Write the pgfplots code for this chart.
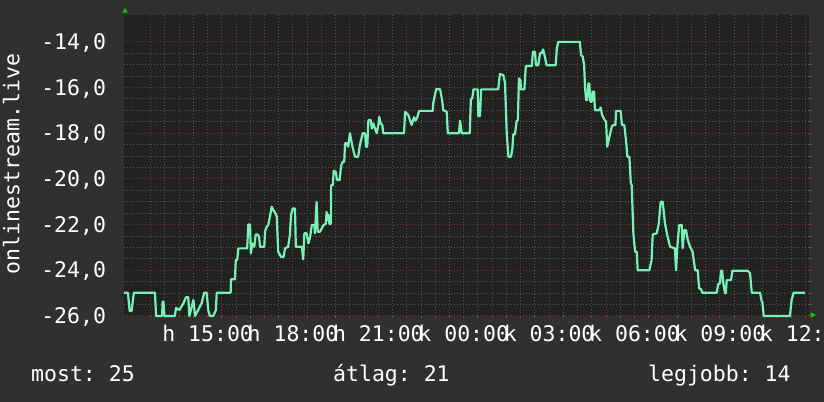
\documentclass[border=0pt]{standalone}
\usepackage{fontspec}
\setmainfont{DejaVu Sans Mono}
\usepackage{pgfplots}
\pgfplotsset{compat=1.18}
\usepackage{pgfplotstable}
\definecolor{bg}{RGB}{48,48,48}
\definecolor{canvas}{RGB}{33,33,33}
\definecolor{majgrid}{RGB}{120,54,54}
\definecolor{mingrid}{RGB}{88,88,88}
\definecolor{rrdline}{RGB}{118,242,182}
\definecolor{arrowc}{RGB}{0,210,0}
\newcommand\rrdfont{\fontsize{21.5bp}{25bp}\selectfont}

\pgfplotstableread{
h v
12.06 -24.98
12.20 -24.98
12.26 -25.78
12.33 -25.78
12.36 -25.43
12.41 -24.98
13.15 -24.98
13.19 -26.0
13.40 -26.0
13.42 -25.37
13.45 -25.37
13.48 -26.0
13.85 -26.0
13.89 -25.64
14.01 -25.74
14.15 -25.44
14.24 -25.18
14.32 -25.18
14.36 -26.0
14.50 -25.30
14.56 -26.0
14.79 -25.44
14.88 -24.98
14.97 -24.98
15.02 -25.74
15.08 -26.0
15.20 -26.0
15.29 -25.74
15.32 -24.98
15.81 -24.98
15.82 -24.39
15.96 -24.39
15.99 -23.55
16.04 -23.55
16.08 -23.04
16.39 -23.04
16.43 -21.99
16.49 -21.99
16.52 -23.26
16.57 -22.82
16.64 -22.97
16.69 -22.43
16.76 -22.43
16.81 -22.53
16.84 -22.97
16.99 -22.97
17.02 -22.28
17.08 -22.09
17.13 -22.02
17.19 -21.65
17.25 -21.22
17.31 -21.36
17.37 -21.48
17.43 -21.65
17.48 -23.19
17.58 -23.41
17.67 -23.41
17.72 -23.04
17.83 -22.97
17.89 -22.46
17.93 -21.58
17.99 -21.29
18.07 -21.29
18.10 -22.97
18.31 -22.97
18.36 -23.52
18.40 -22.38
18.48 -22.38
18.54 -22.82
18.60 -22.56
18.66 -22.02
18.75 -22.02
18.77 -22.38
18.83 -21.00
18.87 -22.31
18.95 -22.31
19.07 -22.02
19.15 -21.97
19.18 -21.44
19.22 -21.80
19.25 -21.58
19.28 -21.97
19.33 -21.97
19.34 -20.27
19.40 -20.27
19.43 -19.64
19.50 -19.69
19.55 -20.05
19.64 -20.05
19.69 -19.42
19.75 -19.25
19.80 -19.25
19.83 -18.44
19.90 -18.44
19.94 -18.59
20.00 -18.00
20.10 -18.65
20.18 -19.03
20.29 -19.03
20.35 -18.52
20.45 -18.00
20.53 -18.00
20.57 -18.59
20.61 -18.59
20.65 -17.42
20.73 -17.42
20.77 -17.79
20.82 -17.57
20.88 -17.79
20.94 -18.00
21.00 -17.64
21.03 -17.28
21.08 -17.57
21.14 -17.64
21.17 -18.00
21.90 -18.00
21.94 -17.06
22.05 -17.20
22.17 -17.64
22.25 -17.30
22.31 -17.45
22.38 -17.25
22.43 -17.02
22.91 -17.02
22.93 -16.67
23.03 -16.07
23.17 -16.07
23.24 -16.55
23.28 -16.99
23.40 -17.06
23.44 -18.00
23.83 -18.00
23.87 -17.45
23.93 -18.00
24.21 -18.00
24.25 -16.52
24.30 -16.47
24.34 -16.08
24.49 -16.08
24.51 -17.25
24.57 -17.25
24.61 -16.08
25.21 -16.08
25.27 -15.41
25.39 -15.45
25.45 -15.82
25.51 -18.00
25.57 -19.03
25.66 -19.03
25.71 -18.66
25.74 -18.04
25.80 -18.04
25.86 -17.45
25.90 -17.45
25.94 -15.60
25.99 -15.67
26.01 -16.08
26.13 -16.08
26.18 -15.06
26.39 -15.06
26.43 -14.43
26.50 -14.43
26.54 -15.02
26.62 -15.02
26.68 -14.50
26.74 -14.50
26.79 -14.33
26.85 -14.65
26.91 -15.02
27.23 -15.02
27.27 -14.29
27.32 -14.00
28.08 -14.00
28.12 -14.58
28.18 -14.65
28.23 -15.02
28.26 -15.97
28.30 -16.55
28.34 -16.55
28.38 -15.82
28.41 -15.82
28.45 -16.62
28.50 -16.62
28.53 -16.18
28.58 -16.18
28.61 -16.99
28.76 -16.99
28.81 -16.87
28.86 -17.20
28.90 -17.30
28.95 -17.42
29.00 -17.50
29.04 -18.59
29.08 -18.37
29.14 -18.04
29.20 -17.72
29.25 -17.64
29.33 -17.64
29.35 -17.02
29.51 -17.02
29.56 -17.64
29.64 -17.64
29.70 -18.30
29.75 -19.03
29.82 -19.03
29.87 -20.19
29.90 -20.27
29.96 -22.38
30.02 -23.19
30.08 -23.19
30.11 -24.00
30.52 -24.00
30.60 -23.55
30.64 -22.43
30.78 -22.38
30.85 -21.97
30.92 -21.00
30.99 -21.00
31.07 -21.94
31.15 -22.46
31.25 -22.97
31.42 -23.04
31.46 -24.00
31.50 -23.04
31.57 -22.02
31.66 -22.02
31.69 -23.04
31.75 -22.24
31.81 -22.24
31.87 -22.67
31.95 -22.97
32.04 -23.19
32.13 -24.00
32.22 -24.00
32.27 -24.79
32.34 -24.83
32.38 -24.98
32.89 -24.98
32.94 -24.60
33.00 -24.57
33.04 -24.02
33.08 -24.02
33.12 -24.57
33.18 -25.01
33.21 -24.98
33.24 -24.43
33.39 -24.43
33.44 -24.02
33.98 -24.02
34.06 -24.13
34.12 -24.98
34.41 -24.98
34.47 -25.37
34.49 -25.37
34.54 -26.00
35.46 -26.00
35.52 -25.30
35.59 -24.98
35.99 -24.98
}\datatable

\begin{document}
\frenchspacing
\rrdfont
\begin{tikzpicture}
\clip (0,0) rectangle (824bp,402bp);
\fill[bg] (0,0) rectangle (824bp,402bp);
\begin{axis}[
  at={(124bp,86bp)}, anchor=south west,
  scale only axis, width=685bp, height=301.3bp,
  xmin=12.062, xmax=36.131, ymin=-26, ymax=-12.81,
  axis background/.style={fill=canvas},
  axis line style={draw=none},
  clip=false,
  xtick={13,14,...,36},
  xticklabels={,,{h 15:00},,,{h 18:00},,,{h 21:00},,,{k 00:00},,,{k 03:00},,,{k 06:00},,,{k 09:00},,,{k 12:00}},
  minor x tick num=1,
  ytick={-26,-24,...,-14},
  yticklabels={{-26,0},{-24,0},{-22,0},{-20,0},{-18,0},{-16,0},{-14,0}},
  minor y tick num=3,
  grid=both,
  major grid style={majgrid, dash pattern=on 1bp off 2bp, line width=1bp},
  minor grid style={mingrid, dash pattern=on 1bp off 2bp, line width=1bp},
  tick align=outside, major tick length=2.5bp, minor tick length=2.5bp,
  xtick pos=bottom, ytick pos=right,
  major tick style={majgrid, line width=1bp},
  minor tick style={mingrid, line width=1bp},
  xticklabel style={anchor=base, yshift=-23.3bp, inner sep=0pt, text=white, font=\rrdfont},
  yticklabel pos=left,
  yticklabel style={anchor=base east, xshift=-15.3bp, yshift=-7.5bp, inner sep=0pt, text=white, font=\rrdfont},
]
\addplot[rrdline, line width=2.2bp, line join=round] table[x=h, y=v] {\datatable};
\end{axis}
\node[rotate=90, anchor=base, inner sep=0pt, text=white] at (19.3bp,238bp) {onlinestream.live};
\node[anchor=base west, inner sep=0pt, text=white] at (31bp,20.3bp) {most: 25};
\node[anchor=base west, inner sep=0pt, text=white] at (333bp,20.3bp) {átlag: 21};
\node[anchor=base west, inner sep=0pt, text=white] at (648bp,20.3bp) {legjobb: 14};
\fill[arrowc] (122.3bp,389.3bp) -- (127.7bp,389.3bp) -- (125bp,394bp) -- cycle;
\fill[arrowc] (810.7bp,89.7bp) -- (810.7bp,84.3bp) -- (816bp,87bp) -- cycle;
\end{tikzpicture}
\end{document}
